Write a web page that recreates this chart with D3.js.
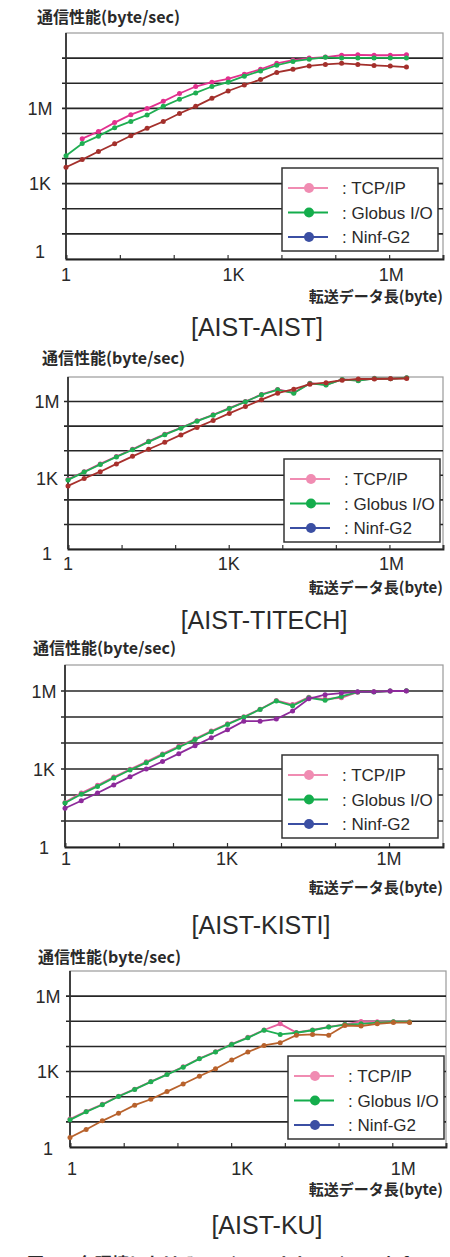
<!DOCTYPE html>
<html>
<head>
<meta charset="utf-8">
<script src="https://cdn.jsdelivr.net/npm/d3@7"></script>
<style>
  body { margin: 0; background: #fff; }
  svg { display: block; }
  text { font-family: "Liberation Sans", Arial, sans-serif; fill: #2a2a2a; }
  .jp { font-family: "Noto Sans CJK JP", "Liberation Sans", sans-serif; font-weight: bold; }
</style>
</head>
<body>
<svg id="chart"></svg>
<script>
// 転送データ長 (byte): 1, 2, 4, ... 2M
var sizes = [1, 2, 4, 8, 16, 32, 64, 128, 256, 512, 1024, 2048, 4096, 8192,
  16384, 32768, 65536, 131072, 262144, 524288, 1048576, 2097152];

var seriesNames = ["TCP/IP", "Globus I/O", "Ninf-G2"];
var legendColors = ["#f08cb2", "#14ad4c", "#3b4fa3"];

var xTicks = [1, 1e3, 1e6];
var xTickLabels = ["1", "1K", "1M"];
var yTicks = [1, 1e3, 1e6];
var yTickLabels = ["1", "1K", "1M"];

var panelTitles = ["[AIST-AIST]", "[AIST-TITECH]", "[AIST-KISTI]", "[AIST-KU]"];

// 通信性能 (byte/sec)
var aistTcp = [null, 6.2e4, 1.2e5, 2.7e5, 5.6e5, 9.8e5, 1.9e6, 3.9e6, 7.4e6, 1.1e7, 1.5e7,
  2.3e7, 3.6e7, 6.2e7, 8.3e7, 1.0e8, 1.1e8, 1.3e8, 1.35e8, 1.3e8, 1.3e8, 1.35e8];
var aistGlobus = [1.3e4, 4.0e4, 7.8e4, 1.7e5, 3.0e5, 5.4e5, 1.2e6, 2.3e6, 4.1e6, 7.4e6, 1.1e7,
  1.9e7, 3.1e7, 5.2e7, 7.4e7, 9.1e7, 1.07e8, 1.0e8, 1.02e8, 1.02e8, 1.02e8, 1.0e8];
var aistNinf = [4.5e3, 9.1e3, 1.9e4, 3.9e4, 8.1e4, 1.6e5, 3.0e5, 6.2e5, 1.2e6, 2.5e6, 4.9e6,
  8.5e6, 1.4e7, 2.7e7, 3.6e7, 4.9e7, 5.6e7, 6.2e7, 5.6e7, 5.1e7, 4.8e7, 4.4e7];

var titechTcp = [680, 1400, 2900, 5800, 1.15e4, 2.4e4, 4.7e4, 8.6e4, 1.65e5, 2.9e5, 5.4e5,
  1.0e6, 1.95e6, 3.1e6, 2.3e6, 5.6e6, 4.8e6, 8.0e6, 7.2e6, 8.8e6, 8.6e6, 9.4e6];
var titechGlobus = [650, 1350, 2750, 5600, 1.1e4, 2.3e4, 4.5e4, 8.3e4, 1.6e5, 2.8e5, 5.2e5,
  9.8e5, 1.9e6, 3.0e6, 2.2e6, 5.5e6, 4.7e6, 7.9e6, 7.1e6, 8.7e6, 8.5e6, 9.3e6];
var titechNinf = [370, 740, 1400, 2900, 5900, 1.15e4, 2.2e4, 4.4e4, 8.9e4, 1.7e5, 3.3e5,
  6.3e5, 1.2e6, 2.2e6, 3.2e6, 5.1e6, 5.9e6, 7.4e6, 8.3e6, 8.3e6, 8.5e6, 8.7e6];

var kistiTcp = [52, 120, 235, 490, 980, 1900, 3800, 7500, 1.45e4, 2.9e4, 5.5e4,
  1.02e5, 2.0e5, 4.3e5, 3.0e5, 5.8e5, 4.9e5, 5.5e5, 9.0e5, 9.3e5, 1.0e6, 1.02e6];
var kistiGlobus = [49, 107, 214, 450, 910, 1740, 3500, 6900, 1.35e4, 2.7e4, 5.2e4,
  9.8e4, 1.95e5, 4.1e5, 2.7e5, 5.5e5, 4.4e5, 6.2e5, 9.1e5, 9.1e5, 1.0e6, 1.02e6];
var kistiNinf = [31, 60, 120, 245, 500, 1000, 1950, 3900, 7900, 1.6e4, 3.2e4,
  6.9e4, 6.9e4, 8.3e4, 1.7e5, 5.0e5, 7.2e5, 8.3e5, 9.3e5, 9.3e5, 1.0e6, 1.0e6];

var kuTcp = [13, 26, 50, 105, 200, 400, 780, 1550, 3300, 6200, 1.25e4,
  2.3e4, 4.5e4, 7.9e4, 3.6e4, 4.5e4, 6.0e4, 7.6e4, 9.8e4, 9.6e4, 9.5e4, 9.3e4];
var kuGlobus = [12, 25, 48, 102, 195, 390, 760, 1500, 3200, 6000, 1.2e4,
  2.2e4, 4.4e4, 3.0e4, 3.5e4, 4.4e4, 5.9e4, 7.4e4, 7.9e4, 8.9e4, 9.5e4, 9.3e4];
var kuNinf = [2.4, 5, 11, 22, 46, 79, 160, 320, 650, 1300, 2900,
  6000, 1.1e4, 1.4e4, 2.8e4, 3.0e4, 2.8e4, 6.8e4, 6.5e4, 7.9e4, 8.9e4, 8.9e4];

var W = 450, H = 1257;
var svg = d3.select("#chart").attr("width", W).attr("height", H);

// 各パネルの配置（ピクセル）
var panels = [
  { title: panelTitles[0], series: [aistTcp, aistGlobus, aistNinf],
    colors: ["#e2318e", "#1fae52", "#a3302c"], yMax: 1e9,
    left: 66, right: 443, top: 33, bottom: 259,
    yLabX: 40, yLabDy: [-8, 0, 0], xLabY: 274, xLabDx: [0, 6, 2],
    yTitle: [37, 17], xTitleY: 297, titleXY: [257, 327], legend: [282, 168] },
  { title: panelTitles[1], series: [titechTcp, titechGlobus, titechNinf],
    colors: ["#e03790", "#1fae52", "#a8302c"], yMax: 1e7,
    left: 68, right: 443, top: 377, bottom: 549,
    yLabX: 47, yLabDy: [4, 3, 0], xLabY: 563, xLabDx: [0, 0, 2],
    yTitle: [42, 358], xTitleY: 588, titleXY: [264, 620], legend: [284, 459] },
  { title: panelTitles[2], series: [kistiTcp, kistiGlobus, kistiNinf],
    colors: ["#e25a9c", "#1fae52", "#8d2a9b"], yMax: 1e7,
    left: 65, right: 443, top: 665, bottom: 847,
    yLabX: 44, yLabDy: [0, 0, 0], xLabY: 858, xLabDx: [1, 0, 0],
    yTitle: [33, 648], xTitleY: 888, titleXY: [261, 925], legend: [282, 755] },
  { title: panelTitles[3], series: [kuTcp, kuGlobus, kuNinf],
    colors: ["#e85e9e", "#1fae52", "#b8622c"], yMax: 1e7,
    left: 70, right: 446, top: 971, bottom: 1147,
    yLabX: 48, yLabDy: [1, 0, 0], xLabY: 1168, xLabDx: [2, 11, 11],
    yTitle: [38, 957], xTitleY: 1190, titleXY: [267, 1225], legend: [288, 1056] }
];

panels.forEach(function (p) {
  var x = d3.scaleLog().domain([1, 1e7]).range([p.left, p.right]);
  var y = d3.scaleLog().domain([1, p.yMax]).range([p.bottom, p.top]);
  var g = svg.append("g");

  // 枠（上・右は薄いグレー）
  g.append("rect")
    .attr("x", p.left).attr("y", p.top)
    .attr("width", p.right - p.left).attr("height", p.bottom - p.top)
    .attr("fill", "#fff").attr("stroke", "#9a9a9a").attr("stroke-width", 1.2);

  // 横グリッド（1桁ごと）
  var decades = d3.range(1, Math.round(Math.log10(p.yMax)));
  g.selectAll(".grid")
    .data(decades)
    .enter()
    .append("line")
    .attr("x1", p.left - 4).attr("x2", p.right)
    .attr("y1", function (d) { return y(Math.pow(10, d)); })
    .attr("y2", function (d) { return y(Math.pow(10, d)); })
    .attr("stroke", "#262626").attr("stroke-width", 1.6);

  // x 軸（内向きの小目盛）
  var xAxis = d3.axisBottom(x)
    .tickValues(d3.range(0, 8).map(function (e) { return Math.pow(10, e); }))
    .tickSize(-4).tickFormat("");
  g.append("g")
    .attr("transform", "translate(0," + p.bottom + ")")
    .call(xAxis)
    .call(function (a) { a.select(".domain").attr("stroke", "#222").attr("stroke-width", 1.8); })
    .call(function (a) { a.selectAll(".tick line").attr("stroke", "#333").attr("stroke-width", 1.2); });

  // y 軸
  g.append("line")
    .attr("x1", p.left).attr("x2", p.left)
    .attr("y1", p.top).attr("y2", p.bottom)
    .attr("stroke", "#333").attr("stroke-width", 1.8);

  // 目盛ラベル
  g.selectAll(".ylab")
    .data(yTicks)
    .enter()
    .append("text")
    .attr("x", p.yLabX)
    .attr("y", function (d, i) { return y(d) + p.yLabDy[i] + 6.5; })
    .attr("text-anchor", "middle")
    .style("font-size", "18px")
    .text(function (d, i) { return yTickLabels[i]; });

  g.selectAll(".xlab")
    .data(xTicks)
    .enter()
    .append("text")
    .attr("x", function (d, i) { return x(d) + p.xLabDx[i]; })
    .attr("y", p.xLabY + 6.5)
    .attr("text-anchor", "middle")
    .style("font-size", "18px")
    .text(function (d, i) { return xTickLabels[i]; });

  // 軸タイトル
  g.append("text")
    .attr("class", "jp")
    .attr("x", p.yTitle[0]).attr("y", p.yTitle[1] + 5.5)
    .style("font-size", "16px")
    .text("通信性能(byte/sec)");
  g.append("text")
    .attr("class", "jp")
    .attr("x", 443).attr("y", p.xTitleY + 5)
    .attr("text-anchor", "end")
    .style("font-size", "15px")
    .text("転送データ長(byte)");

  // パネル名
  g.append("text")
    .attr("x", p.titleXY[0]).attr("y", p.titleXY[1] + 8.5)
    .attr("text-anchor", "middle")
    .style("font-size", "25px")
    .text(p.title);

  // 折れ線とマーカー
  p.series.forEach(function (vals, s) {
    var pts = vals.map(function (v, i) { return { x: sizes[i], v: v }; })
      .filter(function (d) { return d.v != null; });
    var line = d3.line()
      .x(function (d) { return x(d.x); })
      .y(function (d) { return y(d.v); });
    g.append("path")
      .datum(pts)
      .attr("d", line)
      .attr("fill", "none")
      .attr("stroke", p.colors[s])
      .attr("stroke-width", 1.8);
    g.selectAll(".pt" + s)
      .data(pts)
      .enter()
      .append("circle")
      .attr("cx", function (d) { return x(d.x); })
      .attr("cy", function (d) { return y(d.v); })
      .attr("r", 2.5)
      .attr("fill", p.colors[s]);
  });

  // 凡例
  var lg = g.append("g").attr("transform", "translate(" + p.legend[0] + "," + p.legend[1] + ")");
  lg.append("rect")
    .attr("width", 156).attr("height", 83)
    .attr("fill", "#fff").attr("stroke", "#333").attr("stroke-width", 1.5);
  var rows = lg.selectAll(".row")
    .data(seriesNames)
    .enter()
    .append("g")
    .attr("transform", function (d, i) { return "translate(0," + (20 + i * 24.5) + ")"; });
  rows.append("line")
    .attr("x1", 6).attr("x2", 46)
    .attr("stroke", function (d, i) { return legendColors[i]; })
    .attr("stroke-width", 2);
  rows.append("circle")
    .attr("cx", 27).attr("r", 5)
    .attr("fill", function (d, i) { return legendColors[i]; });
  rows.append("text")
    .attr("x", 60).attr("y", 6)
    .style("font-size", "17px")
    .text(function (d) { return ": " + d; });
});

// 下端で切れているキャプション（元画像でも上端だけが見えている）
svg.append("text")
  .attr("class", "jp")
  .attr("x", 27).attr("y", 1270)
  .style("font-size", "17px")
  .text("図７　各環境におけるTCP/IP，Globus I/O，Ninf-G2の通信性能");
</script>
</body>
</html>
